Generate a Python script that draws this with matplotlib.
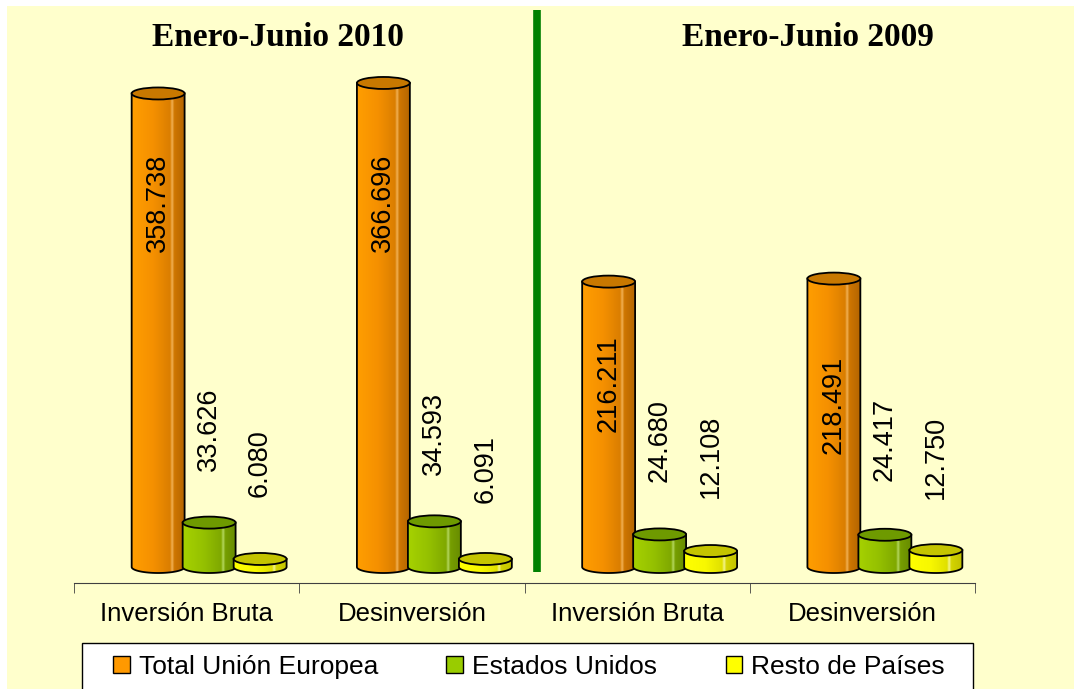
import numpy as np
import matplotlib.pyplot as plt
from matplotlib.patches import Ellipse, PathPatch, Patch
from matplotlib.path import Path
from matplotlib.colors import LinearSegmentedColormap

groups = ['Inversión Bruta', 'Desinversión', 'Inversión Bruta', 'Desinversión']
periods = ['Enero-Junio 2010', 'Enero-Junio 2009']
series_names = ['Total Unión Europea', 'Estados Unidos', 'Resto de Países']
ue = [358.738, 366.696, 216.211, 218.491]
usa = [33.626, 34.593, 24.680, 24.417]
resto = [6.080, 6.091, 12.108, 12.750]

# label centre heights (data units), placed by hand like in the original
label_y = [[276, 276, 139, 123],
           [104, 101, 96, 97],
           [79, 74, 84, 83]]

bg = '#FFFFCC'
W, H = 1074, 689
fig = plt.figure(figsize=(W / 100, H / 100), dpi=100, facecolor=bg)
ax = fig.add_axes([74 / W, (H - 583) / H, 901 / W, 583 / H])
ax.patch.set_alpha(0)

px_per_unit = 1.32
ymin = -(583 - 567) / px_per_unit
ymax = 567 / px_per_unit

offsets = [-0.1265, 0.0999, 0.3263]
width = 0.235
eh = 12 / px_per_unit

styles = [
    (['#FF9E00', '#F59000', '#DA7E00', '#F2B256', '#CF7600', '#B46500'], '#C87800'),
    (['#A6D200', '#94C000', '#7FA800', '#B5D860', '#769E00', '#688C00'], '#6E9A00'),
    (['#FFFF00', '#F8F800', '#E0E000', '#F4F490', '#D4D400', '#C2C200'], '#C4C400'),
]

for s, vals in enumerate([ue, usa, resto]):
    stops, top_color = styles[s]
    cmap = LinearSegmentedColormap.from_list(
        f'g{s}', list(zip([0, 0.4, 0.72, 0.76, 0.8, 1], stops)))
    z = 2 + s
    for i, v in enumerate(vals):
        xc = i + offsets[s]
        x0, x1 = xc - width / 2, xc + width / 2
        t = np.linspace(np.pi, 2 * np.pi, 40)
        verts = [(x0, v)] + list(zip(xc + width / 2 * np.cos(t), eh / 2 * np.sin(t))) + [(x1, v), (x0, v)]
        codes = [Path.MOVETO] + [Path.LINETO] * (len(verts) - 2) + [Path.CLOSEPOLY]
        body = PathPatch(Path(verts, codes), facecolor='none', edgecolor='black', lw=1.3, zorder=z + 0.1)
        ax.add_patch(body)
        im = ax.imshow(np.linspace(0, 1, 256)[None, :], cmap=cmap, aspect='auto',
                       extent=[x0, x1, -eh, v], zorder=z, interpolation='bilinear')
        im.set_clip_path(body)
        ax.add_patch(Ellipse((xc, v), width, eh, facecolor=top_color, edgecolor='black',
                             lw=1.3, zorder=z + 0.2))
        ax.text(xc, label_y[s][i], f'{v:.3f}', rotation=90, ha='center', va='center',
                fontsize=19.5, family='Liberation Sans', zorder=10)

ax.set_xlim(-0.5, 3.5)
ax.set_ylim(ymin, ymax)

ax.axvline(1.555, ymin=(583 - 572) / 583, ymax=(583 - 10) / 583, color='#008000', lw=5.5,
           solid_capstyle='butt')

for sp in ['top', 'left', 'right']:
    ax.spines[sp].set_visible(False)
ax.spines['bottom'].set_color('#404040')
ax.set_yticks([])
ax.set_xticks(range(4))
ax.set_xticklabels(groups, fontsize=18.5, family='Liberation Sans')
ax.set_xticks(np.arange(-0.5, 4, 1), minor=True)
ax.tick_params(axis='x', which='major', length=0, pad=13.5)
ax.tick_params(axis='x', which='minor', length=7, direction='out', color='#404040')

for xpos, title in zip([278, 808], periods):
    fig.text(xpos / W, 1 - 46 / H, title, ha='center', va='baseline',
             fontsize=24, fontweight='bold', family='Liberation Serif')

# legend box (runs off the bottom edge as in the original)
fig.patches.append(plt.Rectangle((82 / W, -6 / H), 891 / W, (H - 643 + 6) / H,
                                 transform=fig.transFigure, facecolor='white',
                                 edgecolor='black', lw=1.0))
handles = [Patch(facecolor=c, edgecolor='black', lw=1) for c in ['#FF9900', '#99CC00', '#FFFF00']]
leg = fig.legend(handles, series_names, loc='center left',
                 bbox_to_anchor=(113 / W, 1 - 667 / H, 832 / W, 0),
                 mode='expand', ncol=3, frameon=False, borderpad=0, borderaxespad=0,
                 handlelength=0.64, handleheight=0.64, handletextpad=0.34,
                 prop={'family': 'Liberation Sans', 'size': 19})

# white margins on top and left of the original picture
fig.patches.append(plt.Rectangle((0, 1 - 6 / H), 1, 6 / H, transform=fig.transFigure,
                                 facecolor='white', edgecolor='none'))
fig.patches.append(plt.Rectangle((0, 0), 7 / W, 1, transform=fig.transFigure,
                                 facecolor='white', edgecolor='none'))

fig.savefig('out.png', dpi=100, facecolor=bg)
